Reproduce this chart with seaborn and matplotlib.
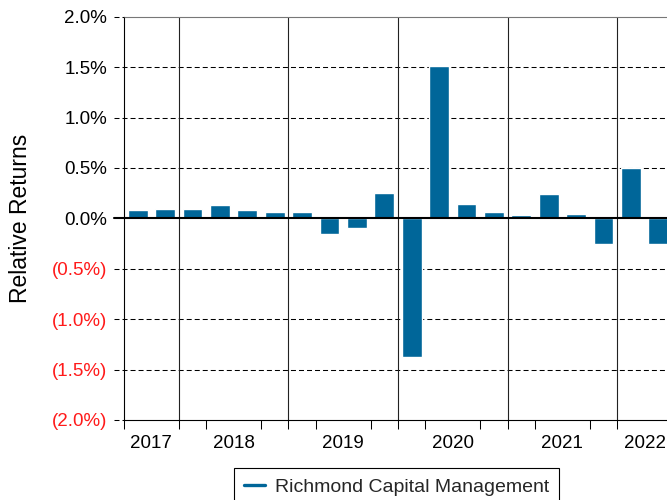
import matplotlib
matplotlib.use('Agg')
import matplotlib.pyplot as plt
import seaborn as sns
import pandas as pd
import numpy as np
from matplotlib.lines import Line2D

# ---- data ----
quarters = ['2017Q3', '2017Q4',
            '2018Q1', '2018Q2', '2018Q3', '2018Q4',
            '2019Q1', '2019Q2', '2019Q3', '2019Q4',
            '2020Q1', '2020Q2', '2020Q3', '2020Q4',
            '2021Q1', '2021Q2', '2021Q3', '2021Q4',
            '2022Q1', '2022Q2']
returns = [0.085, 0.095,
           0.095, 0.135, 0.085, 0.06,
           0.06, -0.16, -0.10, 0.25,
           -1.38, 1.51, 0.14, 0.065,
           0.035, 0.245, 0.045, -0.25,
           0.50, -0.25]
years = ['2017', '2018', '2019', '2020', '2021', '2022']
y_ticks = [2.0, 1.5, 1.0, 0.5, 0.0, -0.5, -1.0, -1.5, -2.0]
series_name = 'Richmond Capital Management'

BLUE = '#006699'

sns.set_theme(style='white')
plt.rcParams['font.family'] = ['Liberation Sans', 'DejaVu Sans']

fig = plt.figure(figsize=(6.67, 5), dpi=100)
ax = fig.add_axes([124 / 667, 80 / 500, 548 / 667, 403.3 / 500])

df = pd.DataFrame({'quarter': quarters, 'ret': returns})
sns.barplot(data=df, x='quarter', y='ret', color=BLUE, saturation=1,
            width=0.72, ax=ax)

n = len(quarters)
ax.set_xlim(-0.5, n - 0.5)
ax.set_ylim(min(y_ticks), max(y_ticks))
ax.grid(False)

# horizontal gridlines (dashed) extending slightly left of the axis
ext = -10 / 548
for yv in y_ticks:
    if yv == 0:
        ax.axhline(0, xmin=ext, xmax=1, color='black', lw=1.5, clip_on=False, zorder=3)
    elif abs(yv) == 2.0:
        ax.axhline(yv, xmin=ext, xmax=0, color='black', lw=0.75,
                   linestyle=(0, (4.8, 2.9)), clip_on=False, zorder=3)
    else:
        ax.axhline(yv, xmin=ext, xmax=1, color='black', lw=0.75,
                   linestyle=(0, (4.8, 2.9)), clip_on=False, zorder=0.5)

# year boundaries and centers
qyears = [q[:4] for q in quarters]
boundaries = [i - 0.5 for i in range(1, n) if qyears[i] != qyears[i - 1]]
centers = [np.mean([i for i in range(n) if qyears[i] == y]) for y in years]
for b in boundaries:
    ax.axvline(b, color='#222222', lw=0.8, zorder=0.6)

# x ticks: minor at quarter boundaries (marks), major at year centers (labels)
ax.set_xticks(centers)
ax.set_xticklabels(years)
ax.set_xticks(np.arange(-0.5, n, 1.0), minor=True)
ax.tick_params(axis='x', which='major', length=0, pad=11, labelsize=13.5,
               labelcolor='black')
ax.tick_params(axis='x', which='minor', length=6.5, width=0.75,
               color='black', direction='out', bottom=True)
ax.set_xlabel('')

# y ticks
def fmt(v):
    if v < 0:
        return '({:.1f}%)'.format(-v)
    return '{:.1f}%'.format(v)

ax.set_yticks(y_ticks)
ax.set_yticklabels([fmt(v) for v in y_ticks])
ax.tick_params(axis='y', which='major', length=0, pad=12, labelsize=13.5, left=True)
for lab, v in zip(ax.get_yticklabels(), y_ticks):
    lab.set_color('#ff1a1a' if v < 0 else 'black')

ax.set_ylabel('Relative Returns', fontsize=16.5, color='black')
ax.yaxis.set_label_coords(-0.168, 0.5)

# spines
for s in ['left', 'bottom']:
    ax.spines[s].set_color('black')
    ax.spines[s].set_linewidth(0.8)
ax.spines['top'].set_color('#777777')
ax.spines['top'].set_linewidth(0.8)
ax.spines['right'].set_visible(False)

# legend
handle = Line2D([0], [0], color=BLUE, lw=2.4)
leg = fig.legend(handles=[handle], labels=[series_name], loc='upper center',
                 bbox_to_anchor=(396.6 / 667, 1 - 468.3 / 500),
                 frameon=True, fancybox=False, edgecolor='black',
                 fontsize=14, handlelength=1.05, handletextpad=0.52,
                 borderpad=0.5, borderaxespad=0)
leg.get_frame().set_linewidth(0.8)
leg.get_frame().set_alpha(1)

fig.savefig('out.png', dpi=100)
